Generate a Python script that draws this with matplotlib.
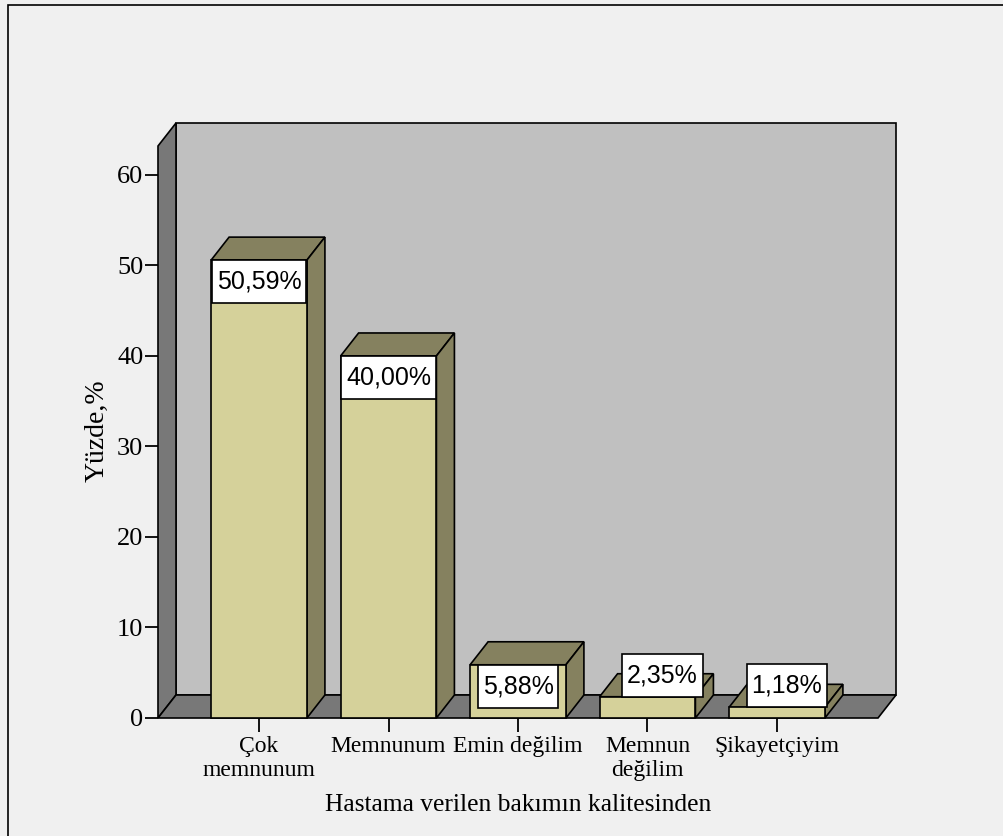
import matplotlib
matplotlib.use("Agg")
import matplotlib.pyplot as plt
from matplotlib.patches import Polygon, Rectangle
from matplotlib.transforms import IdentityTransform

# Survey data
categories = ["Çok\nmemnunum", "Memnunum", "Emin değilim", "Memnun\ndeğilim", "Şikayetçiyim"]
percentages = [50.59, 40.00, 5.88, 2.35, 1.18]
value_labels = ["50,59%", "40,00%", "5,88%", "2,35%", "1,18%"]
y_ticks = [0, 10, 20, 30, 40, 50, 60]
x_title = "Hastama verilen bakımın kalitesinden"
y_title = "Yüzde,%"

# Styling
BG = "#f0f0f0"
WALL_BACK = "#c0c0c0"
WALL_DARK = "#787878"
BAR_FRONT = "#d5d19a"
BAR_DARK = "#85815f"
EDGE_LW = 1.2
DEPTH_PX = (18, 23)          # extrusion of the 3D frame, in pixels
BAR_WIDTH = 0.74
XLIM = (-0.78, 4.78)
YTOP = 63.2
BOX_H_PX = 43
BOX_PADX_PX = 5

W, H = 1004, 836
fig = plt.figure(figsize=(W / 100, H / 100), dpi=100, facecolor=BG)
ax = fig.add_axes([158 / W, 1 - 718 / H, 720 / W, (718 - 146) / H])
ax.set_facecolor("none")
ax.set_xlim(*XLIM)
ax.set_ylim(0, YTOP)
for s in ax.spines.values():
    s.set_visible(False)

fig.canvas.draw()
inv = ax.transData.inverted()


def back(x, y):
    """Shift a data point back by the extrusion depth."""
    px, py = ax.transData.transform((x, y))
    return tuple(inv.transform((px + DEPTH_PX[0], py + DEPTH_PX[1])))


def poly(pts, fc, z):
    ax.add_patch(Polygon(pts, closed=True, facecolor=fc, edgecolor="black",
                         lw=EDGE_LW, joinstyle="miter", clip_on=False, zorder=z))


x0, x1 = XLIM
# Back wall, left wall and floor
poly([back(x0, 0), back(x1, 0), back(x1, YTOP), back(x0, YTOP)], WALL_BACK, 1)
poly([(x0, 0), (x0, YTOP), back(x0, YTOP), back(x0, 0)], WALL_DARK, 2)
poly([(x0, 0), (x1, 0), back(x1, 0), back(x0, 0)], WALL_DARK, 2)

# 3D bars
for i, v in enumerate(percentages):
    l, r = i - BAR_WIDTH / 2, i + BAR_WIDTH / 2
    poly([(l, v), (r, v), back(r, v), back(l, v)], BAR_DARK, 3)
    poly([(r, 0), (r, v), back(r, v), back(r, 0)], BAR_DARK, 3)
    poly([(l, 0), (r, 0), (r, v), (l, v)], BAR_FRONT, 4)

# Value labels in white boxes: inside the top of tall bars, sitting on short ones
renderer = fig.canvas.get_renderer()
label_shift_px = [0, 0, 0, 15, 10]
for i, (v, t) in enumerate(zip(percentages, value_labels)):
    cx, ty = ax.transData.transform((i, v))
    cx += label_shift_px[i]
    if v > 4:
        cy = ty - BOX_H_PX / 2
    else:
        cy = ty + BOX_H_PX / 2
    txt = fig.text(cx, cy, t, transform=IdentityTransform(), ha="center", va="center",
                   family="Liberation Sans", fontsize=18, zorder=7)
    tw = txt.get_window_extent(renderer).width
    bw = tw + 2 * BOX_PADX_PX
    fig.patches.append(Rectangle((cx - bw / 2, cy - BOX_H_PX / 2), bw, BOX_H_PX,
                                 transform=IdentityTransform(), facecolor="white",
                                 edgecolor="black", lw=1.2, zorder=6))

# Axes ticks
ax.set_yticks(y_ticks)
ax.set_yticklabels([str(t) for t in y_ticks], family="Liberation Serif", fontsize=19)
ax.set_xticks(range(len(categories)))
ax.set_xticklabels(categories, family="Liberation Serif", fontsize=17, linespacing=1.2)
ax.tick_params(axis="y", length=9.5, width=1.3, pad=1, color="black")
ax.tick_params(axis="x", length=10, width=1.3, pad=3, color="black")

fig.text(97 / W, 1 - 431 / H, y_title, rotation=90, ha="center", va="center",
         family="Liberation Serif", fontsize=20)
fig.text(518 / W, 1 - 805 / H, x_title, ha="center", va="center",
         family="Liberation Serif", fontsize=18.4)

# Outer frame
fig.patches.append(Rectangle((8 / W, -0.1), 1.2, 1.1 - 5 / H, transform=fig.transFigure,
                             facecolor="none", edgecolor="black", lw=1.2))

fig.savefig("out.png", dpi=100, facecolor=BG)
